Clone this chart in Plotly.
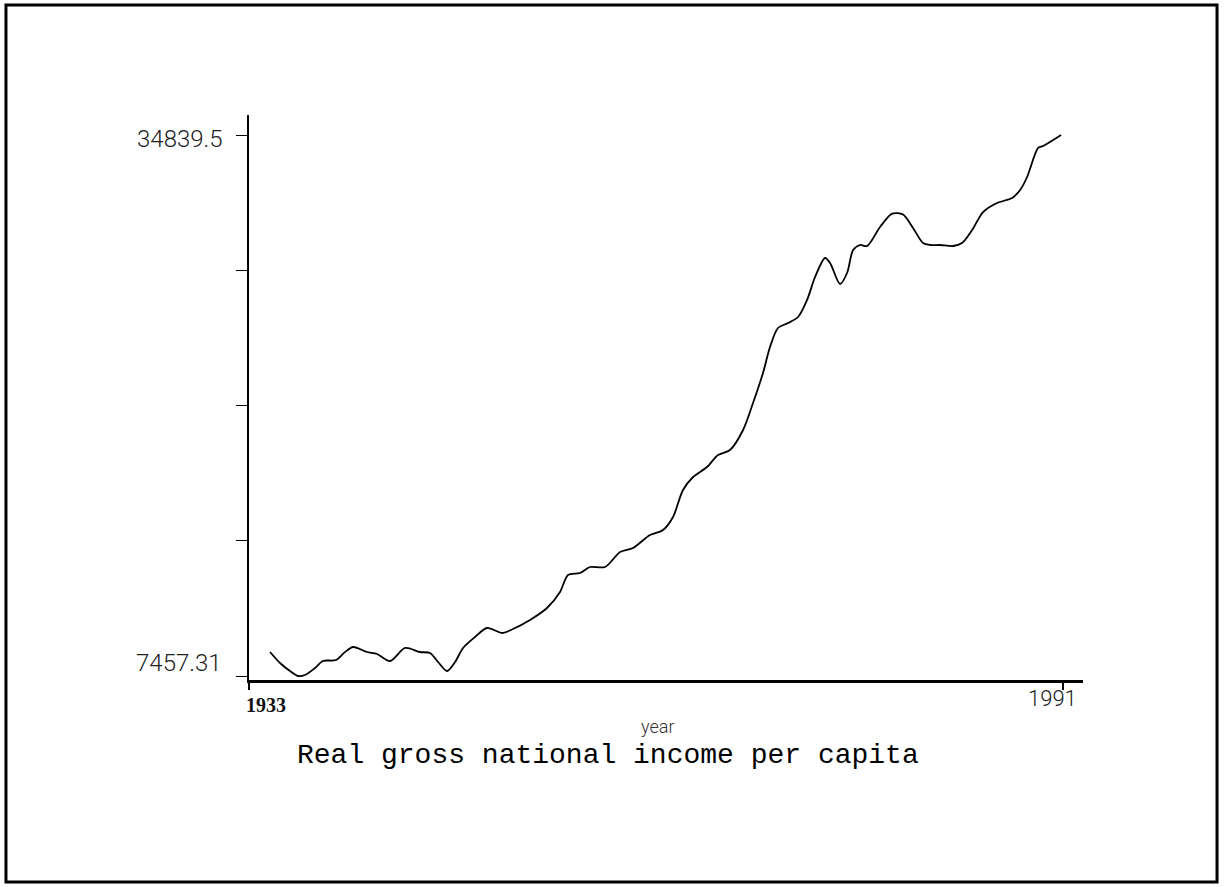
import plotly.graph_objects as go

# Data (year, real GNI per capita)
years = [1934.50, 1935.21, 1935.92, 1936.49, 1936.99, 1937.70, 1938.27, 1939.20, 1939.84, 1940.41,
         1941.41, 1942.12, 1943.05, 1944.12, 1945.18, 1945.90, 1946.47, 1947.11, 1947.68, 1948.25,
         1949.10, 1949.96, 1951.03, 1951.81, 1953.02, 1954.23, 1955.16, 1955.73, 1956.58, 1957.30,
         1958.37, 1959.44, 1960.36, 1961.57, 1962.50, 1963.21, 1963.92, 1964.64, 1965.63, 1966.42,
         1967.27, 1968.20, 1968.91, 1969.62, 1970.12, 1970.69, 1971.41, 1972.12, 1972.76, 1973.33,
         1974.04, 1974.40, 1975.11, 1975.61, 1976.04, 1976.54, 1977.04, 1977.96, 1978.82, 1979.60,
         1980.31, 1981.02, 1981.52, 1982.24, 1983.16, 1983.80, 1984.52, 1985.30, 1986.30, 1987.37,
         1987.94, 1988.44, 1989.22, 1989.58, 1990.86]
income = [8672, 8115, 7710, 7457.31, 7508, 7862, 8217, 8267, 8672, 8925,
          8672, 8571, 8217, 8875, 8672, 8621, 8166, 7710, 8166, 8875,
          9431, 9887, 9634, 9836, 10292, 10899, 11709, 12569, 12670, 12974,
          12974, 13733, 13936, 14594, 14847, 15505, 16871, 17529, 18035, 18643,
          18896, 19908, 21275, 22793, 24109, 25071, 25324, 25628, 26488, 27652,
          28614, 28361, 27298, 27855, 29019, 29272, 29221, 30183, 30862, 30812,
          30132, 29373, 29272, 29272, 29221, 29373, 30031, 30942, 31398, 31651,
          32056, 32714, 34182, 34283, 34839.5]

y_min = 7457.31
y_max = 34839.5
y_ticks = [y_min + (y_max - y_min) * k / 4 for k in range(5)]
x_ticks = [1933, 1991]

title_text = "Real gross national income per capita"
x_title = "year"

fig = go.Figure()
fig.add_trace(go.Scatter(
    x=years, y=income, mode="lines",
    line=dict(color="black", width=1.8, shape="spline", smoothing=0.8),
    hoverinfo="skip", showlegend=False,
))

label_font = "Roboto, Liberation Sans, sans-serif"

fig.update_layout(
    width=1224, height=887,
    margin=dict(l=249, r=141, t=115, b=207),
    paper_bgcolor="white", plot_bgcolor="white",
    xaxis=dict(
        range=[1933, 1992.42], showgrid=False, zeroline=False,
        showline=True, linecolor="black", linewidth=3,
        tickvals=x_ticks, ticktext=["", ""], ticks="outside",
        ticklen=7, tickwidth=2, tickcolor="black",
    ),
    yaxis=dict(
        range=[7254.8, 35852], showgrid=False, zeroline=False,
        showline=True, linecolor="black", linewidth=2,
        tickvals=y_ticks, ticktext=[""] * 5, ticks="outside",
        ticklen=11, tickwidth=1, tickcolor="black",
    ),
    shapes=[dict(
        type="rect", xref="paper", yref="paper",
        x0=-0.2914, x1=1.1607, y0=-0.3575, y1=1.1947,
        line=dict(color="black", width=3), fillcolor="rgba(0,0,0,0)",
    )],
)

ann = []
# y tick labels
ann.append(dict(text="34839.5", xref="paper", x=0, yref="y", y=y_max,
                xanchor="right", yanchor="middle", xshift=-24, yshift=-4,
                showarrow=False, font=dict(family=label_font, size=24, weight=300, color="#222")))
ann.append(dict(text="7457.31", xref="paper", x=0, yref="y", y=y_min,
                xanchor="right", yanchor="middle", xshift=-25, yshift=13,
                showarrow=False, font=dict(family=label_font, size=24, weight=300, color="#222")))
# x tick labels
ann.append(dict(text="<b>1933</b>", xref="x", x=x_ticks[0], yref="paper", y=0,
                xanchor="center", yanchor="middle", xshift=17, yshift=-25,
                showarrow=False, font=dict(family="Liberation Serif, DejaVu Serif, serif", size=20, color="#111")))
ann.append(dict(text="1991", xref="x", x=x_ticks[1], yref="paper", y=0,
                xanchor="center", yanchor="middle", xshift=-11, yshift=-18,
                showarrow=False, font=dict(family=label_font, size=22, weight=300, color="#222")))
# axis title
ann.append(dict(text=x_title, xref="paper", x=0.4904, yref="paper", y=0,
                xanchor="center", yanchor="middle", yshift=-46,
                showarrow=False, font=dict(family=label_font, size=18, weight=300, color="#333")))
# chart title
ann.append(dict(text=title_text, xref="paper", x=0.4305, yref="paper", y=0,
                xanchor="center", yanchor="middle", yshift=-75,
                showarrow=False, font=dict(family="Liberation Mono, DejaVu Sans Mono, monospace", size=28, color="black")))
fig.update_layout(annotations=ann)

fig.write_html("out.html", config={"displayModeBar": False},
               post_script="document.body.style.margin='0';")
